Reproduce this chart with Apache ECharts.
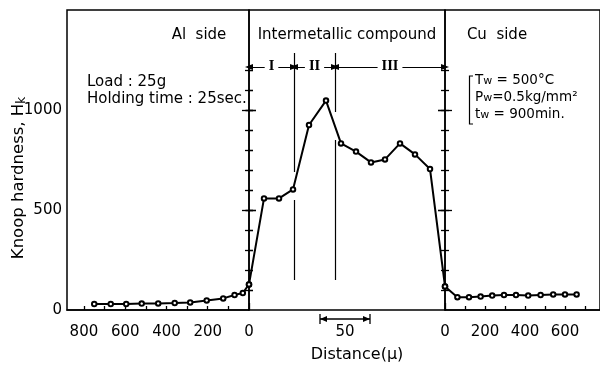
<!DOCTYPE html>
<html>
<head>
<meta charset="utf-8">
<script src="https://cdn.jsdelivr.net/npm/echarts@6/dist/echarts.min.js"></script>
<style>
html, body { margin: 0; padding: 0; background: #fff; }
#chart { width: 600px; height: 367px; }
</style>
</head>
<body>
<div id="chart"></div>
<script>
// Knoop hardness profile across an Al / intermetallic / Cu diffusion-bonded joint

// Al side: distance from the Al/compound interface (μ)
const alDistance = [750, 670, 595, 520, 440, 360, 285, 205, 125, 70, 30, 0];
const alHardness = [30, 30, 30, 32, 33, 35, 38, 48, 58, 75, 85, 128];

// Intermetallic compound layer: distance from the Al interface (μ)
const imcDistance = [0, 15, 30, 44, 60, 77, 92, 107, 122, 136, 151, 166, 181, 196];
const imcHardness = [128, 558, 558, 603, 925, 1047, 833, 792, 738, 753, 833, 778, 705, 118];

// Cu side: distance from the compound/Cu interface (μ)
const cuDistance = [0, 62, 120, 178, 236, 295, 355, 416, 478, 541, 600, 658];
const cuHardness = [118, 64, 64, 67, 72, 75, 75, 72, 75, 78, 78, 78];

// tick labels
const hardnessLabels = [0, 500, 1000];
const alLabels = [0, 200, 400, 600, 800];
const cuLabels = [0, 200, 400, 600];

// zones I/II/III inside the compound layer (μ) and their divider segments [x, from, to]
const zoneBounds = [0, 45, 86, 196];
const zoneNames = ['I', 'II', 'III'];
const zoneArrowLevel = 1215;
const zoneDividers = [[45, 1285, 690], [45, 550, 150], [86, 1285, 990], [86, 850, 150]];

// 50 μ scale bar for the compound layer
const scaleBar = [71, 121];

const FONT = 'DejaVu Sans';
const INK = '#000';

function range(from, to, step) {
  const out = [];
  for (let v = from; v <= to; v += step) out.push(v);
  return out;
}
const minorHardness = range(100, 1200, 100);
const majorHardness = [500, 1000];
const plain = v => String(v);

function yAxisFor(gridIndex, position, ticks, len, inside, labels) {
  return {
    type: 'value', gridIndex, position, min: 0, max: 1500,
    axisLine: { show: false },
    splitLine: { show: false },
    axisTick: { show: true, inside, length: len, customValues: ticks, lineStyle: { color: INK, width: 1.3 } },
    axisLabel: labels
      ? { show: true, customValues: labels, formatter: plain, margin: 5, color: INK, fontSize: 15, fontFamily: FONT }
      : { show: false }
  };
}

function hiddenX(gridIndex, max, inverse) {
  return { type: 'value', gridIndex, min: 0, max, inverse: !!inverse, show: false };
}

function tickX(gridIndex, max, inverse, ticks, len, labels, showLine) {
  return {
    type: 'value', gridIndex, min: 0, max, inverse: !!inverse,
    position: 'bottom', offset: 9,
    axisLine: { show: showLine, lineStyle: { color: INK, width: 1.5 } },
    splitLine: { show: false },
    axisTick: { show: true, inside: true, length: len, customValues: ticks, lineStyle: { color: INK, width: 1.3 } },
    axisLabel: labels
      ? { show: true, customValues: labels, formatter: plain, margin: 6, color: INK, fontSize: 15, fontFamily: FONT }
      : { show: false }
  };
}

const lineSeriesBase = {
  type: 'line',
  symbol: 'emptyCircle',
  symbolSize: 4.5,
  clip: false,
  animation: false,
  lineStyle: { color: INK, width: 2 },
  itemStyle: { color: INK, borderWidth: 1 },
  z: 5
};

const dividerLines = zoneDividers.map(d => [
  { coord: [d[0], d[1]], symbol: 'none' },
  { coord: [d[0], d[2]], symbol: 'none' }
]);
const zoneArrows = zoneNames.map((n, i) => [
  { coord: [zoneBounds[i], zoneArrowLevel], symbol: 'triangle', symbolSize: [6, 8] },
  { coord: [zoneBounds[i + 1], zoneArrowLevel], symbol: 'triangle', symbolSize: [6, 8] }
]);

const gridBox = { show: true, borderColor: INK, borderWidth: 1.5, top: 10, height: 300 };

const option = {
  animation: false,
  backgroundColor: '#fff',
  grid: [
    Object.assign({ left: 67, width: 182 }, gridBox),
    Object.assign({ left: 249, width: 196 }, gridBox),
    Object.assign({ left: 445, width: 155 }, gridBox)
  ],
  xAxis: [
    hiddenX(0, 882, true),                                          // 0 Al data axis
    tickX(0, 882, true, range(100, 800, 100), 4, alLabels, true),   // 1 Al distance scale
    tickX(0, 882, true, [0], 7, null, false),                       // 2 Al zero mark
    hiddenX(1, 196, false),                                         // 3 compound data axis
    hiddenX(2, 775, false),                                         // 4 Cu data axis
    tickX(2, 775, false, range(100, 700, 100), 4, cuLabels, true),  // 5 Cu distance scale
    tickX(2, 775, false, [0], 7, null, false)                       // 6 Cu zero mark
  ],
  yAxis: [
    yAxisFor(0, 'left', minorHardness, 4, true, hardnessLabels),    // 0
    yAxisFor(0, 'left', majorHardness, 7, true, null),              // 1
    yAxisFor(0, 'left', majorHardness, 3, false, null),             // 2
    yAxisFor(0, 'right', minorHardness, 4, true, null),             // 3
    yAxisFor(0, 'right', majorHardness, 7, true, null),             // 4
    yAxisFor(1, 'left', minorHardness, 4, true, null),              // 5
    yAxisFor(1, 'left', majorHardness, 7, true, null),              // 6
    yAxisFor(1, 'right', minorHardness, 4, true, null),             // 7
    yAxisFor(1, 'right', majorHardness, 7, true, null),             // 8
    yAxisFor(2, 'left', minorHardness, 4, true, null),              // 9
    yAxisFor(2, 'left', majorHardness, 7, true, null),              // 10
    yAxisFor(2, 'right', majorHardness, 7, true, null)              // 11
  ],
  series: [
    Object.assign({}, lineSeriesBase, {
      name: 'Al side', xAxisIndex: 0, yAxisIndex: 0,
      data: alDistance.map((d, i) => [d, alHardness[i]])
    }),
    Object.assign({}, lineSeriesBase, {
      name: 'Intermetallic compound', xAxisIndex: 3, yAxisIndex: 5,
      data: imcDistance.map((d, i) => [d, imcHardness[i]]),
      markLine: {
        silent: true,
        animation: false,
        symbol: ['none', 'none'],
        label: { show: false },
        lineStyle: { color: INK, width: 1.2, type: 'solid' },
        emphasis: { disabled: true },
        data: dividerLines.concat(zoneArrows)
      }
    }),
    Object.assign({}, lineSeriesBase, {
      name: 'Cu side', xAxisIndex: 4, yAxisIndex: 9,
      data: cuDistance.map((d, i) => [d, cuHardness[i]])
    })
  ]
};

const chart = echarts.init(document.getElementById('chart'), null, { renderer: 'canvas' });
chart.setOption(option);

// annotations placed from the axis scales
const barY = 10 + 300 + 9;
const bx0 = chart.convertToPixel({ xAxisIndex: 3 }, scaleBar[0]);
const bx1 = chart.convertToPixel({ xAxisIndex: 3 }, scaleBar[1]);
const arrowY = chart.convertToPixel({ yAxisIndex: 5 }, zoneArrowLevel);
const textStyle = (extra) => Object.assign({ fill: INK, fontFamily: FONT, fontSize: 15 }, extra);
const sub = { fontSize: 11, fontFamily: FONT, fill: INK, verticalAlign: 'bottom', padding: [3, 0, 0, 0] };
const subLarge = { fontSize: 12, fontFamily: FONT, fill: INK, verticalAlign: 'bottom', padding: [3, 0, 0, 0] };

const zoneLabels = zoneNames.map((n, i) => ({
  type: 'text', z: 20,
  x: chart.convertToPixel({ xAxisIndex: 3 }, (zoneBounds[i] + zoneBounds[i + 1]) / 2),
  y: arrowY,
  style: {
    text: n, fill: INK, fontFamily: 'DejaVu Serif', fontWeight: 'bold', fontSize: 12,
    align: 'center', verticalAlign: 'middle', backgroundColor: '#fff', padding: [1, 4]
  }
}));

chart.setOption({
  graphic: zoneLabels.concat([
    { type: 'text', x: 199, y: 35, style: textStyle({ text: 'Al  side', align: 'center', verticalAlign: 'middle' }) },
    { type: 'text', x: 347, y: 35, style: textStyle({ text: 'Intermetallic compound', align: 'center', verticalAlign: 'middle' }) },
    { type: 'text', x: 497, y: 35, style: textStyle({ text: 'Cu  side', align: 'center', verticalAlign: 'middle' }) },
    { type: 'text', x: 87, y: 82, style: textStyle({ text: 'Load : 25g', align: 'left', verticalAlign: 'middle' }) },
    { type: 'text', x: 87, y: 99, style: textStyle({ text: 'Holding time : 25sec.', align: 'left', verticalAlign: 'middle' }) },
    {
      type: 'text', x: 475, y: 80,
      style: textStyle({ text: 'T{s|w} = 500°C', fontSize: 13.5, align: 'left', verticalAlign: 'middle', rich: { s: sub } })
    },
    {
      type: 'text', x: 475, y: 97,
      style: textStyle({ text: 'P{s|w}=0.5kg/mm²', fontSize: 13.5, align: 'left', verticalAlign: 'middle', rich: { s: sub } })
    },
    {
      type: 'text', x: 475, y: 114,
      style: textStyle({ text: 't{s|w} = 900min.', fontSize: 13.5, align: 'left', verticalAlign: 'middle', rich: { s: sub } })
    },
    {
      type: 'polyline',
      shape: { points: [[473, 76], [469.5, 76], [469.5, 124], [473, 124]] },
      style: { stroke: INK, lineWidth: 1.2, fill: null }
    },
    {
      type: 'text', x: 19, y: 178, rotation: Math.PI / 2,
      style: textStyle({ text: 'Knoop hardness, H{s|k}', fontSize: 16.5, align: 'center', verticalAlign: 'middle', rich: { s: subLarge } })
    },
    { type: 'text', x: 357, y: 355, style: textStyle({ text: 'Distance(μ)', fontSize: 16, align: 'center', verticalAlign: 'middle' }) },
    { type: 'text', x: (bx0 + bx1) / 2, y: 332, style: textStyle({ text: '50', align: 'center', verticalAlign: 'middle' }) },
    { type: 'line', shape: { x1: bx0, y1: barY, x2: bx1, y2: barY }, style: { stroke: INK, lineWidth: 1.3 } },
    { type: 'line', shape: { x1: bx0, y1: barY - 5, x2: bx0, y2: barY + 5 }, style: { stroke: INK, lineWidth: 1.3 } },
    { type: 'line', shape: { x1: bx1, y1: barY - 5, x2: bx1, y2: barY + 5 }, style: { stroke: INK, lineWidth: 1.3 } },
    { type: 'polygon', shape: { points: [[bx0, barY], [bx0 + 7, barY - 3], [bx0 + 7, barY + 3]] }, style: { fill: INK } },
    { type: 'polygon', shape: { points: [[bx1, barY], [bx1 - 7, barY - 3], [bx1 - 7, barY + 3]] }, style: { fill: INK } }
  ])
});
</script>
</body>
</html>
